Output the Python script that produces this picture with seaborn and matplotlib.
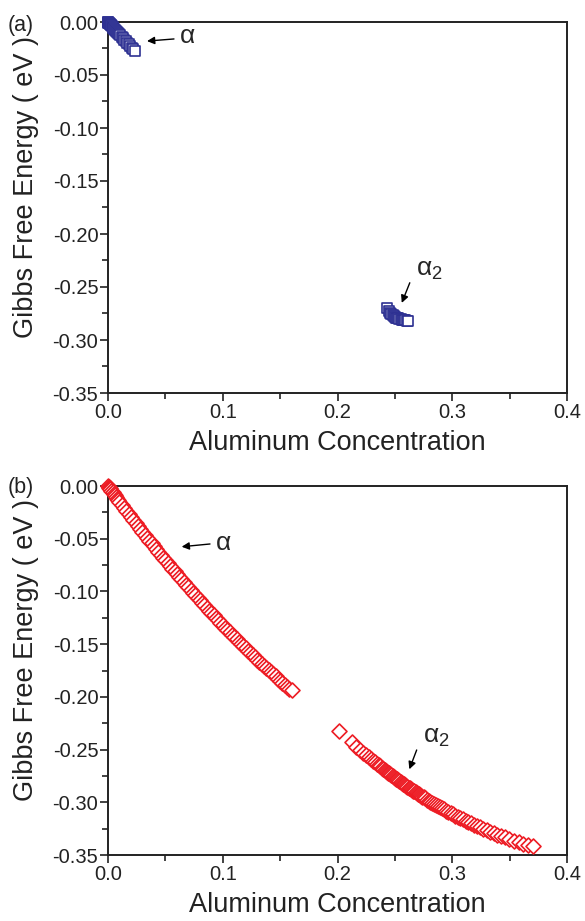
import numpy as np
import pandas as pd
import matplotlib
matplotlib.use("Agg")
import matplotlib.pyplot as plt
import matplotlib.ticker as ticker
import seaborn as sns

# ---- data ----
# (a) top panel, squares
a_alpha_x = [0.0, 0.0002, 0.0004, 0.0007, 0.001, 0.0014, 0.0018, 0.0023, 0.0028, 0.0034,
             0.004, 0.0047, 0.0054, 0.0062, 0.007, 0.0079, 0.0088, 0.0098, 0.0108, 0.0119,
             0.013, 0.0142, 0.0154, 0.0167, 0.018, 0.0194, 0.0208, 0.0222, 0.0235]
a_alpha_y = [0.0, -0.0002, -0.0005, -0.0008, -0.0012, -0.0016, -0.0021, -0.0027, -0.0033, -0.0040,
             -0.0047, -0.0055, -0.0063, -0.0073, -0.0082, -0.0092, -0.0103, -0.0115, -0.0126, -0.0139,
             -0.0152, -0.0166, -0.0180, -0.0195, -0.0211, -0.0227, -0.0243, -0.0259, -0.0274]

a_alpha2_x = [0.2429, 0.2445, 0.246, 0.247, 0.248, 0.249, 0.250, 0.251, 0.252, 0.253,
              0.254, 0.255, 0.256, 0.257, 0.258, 0.259, 0.2605, 0.2617]
a_alpha2_y = [-0.2695, -0.2725, -0.2745, -0.2757, -0.2767, -0.2775, -0.2782, -0.2788, -0.2793, -0.2797,
              -0.2801, -0.2804, -0.2807, -0.2810, -0.2812, -0.2814, -0.2817, -0.2820]

# (b) bottom panel, diamonds
b_alpha_x = [0.0, 0.0005, 0.001, 0.0015, 0.002, 0.003, 0.004, 0.005, 0.006, 0.007, 0.008, 0.009, 0.010,
             0.012, 0.014, 0.016, 0.018, 0.020, 0.022, 0.024, 0.026, 0.028, 0.030,
             0.032, 0.034, 0.036, 0.038, 0.040, 0.042, 0.044, 0.046, 0.048, 0.050,
             0.052, 0.054, 0.056, 0.058, 0.060, 0.062, 0.064, 0.066, 0.068, 0.070,
             0.072, 0.074, 0.076, 0.078, 0.080, 0.082, 0.084, 0.086, 0.088, 0.090,
             0.092, 0.094, 0.096, 0.098, 0.100, 0.102, 0.104, 0.106, 0.108, 0.110,
             0.112, 0.114, 0.116, 0.118, 0.120, 0.122, 0.124, 0.126, 0.128, 0.130,
             0.132, 0.134, 0.136, 0.138, 0.140, 0.142, 0.144, 0.146, 0.148, 0.150,
             0.152, 0.154, 0.156, 0.158, 0.160]
b_alpha_y = [0.0, -0.0008, -0.0015, -0.0022, -0.0030, -0.0045, -0.0060, -0.0075, -0.0089, -0.0104, -0.0119, -0.0133, -0.0148,
             -0.0177, -0.0206, -0.0235, -0.0264, -0.0293, -0.0321, -0.0350, -0.0378, -0.0406, -0.0434,
             -0.0462, -0.0489, -0.0517, -0.0544, -0.0571, -0.0598, -0.0625, -0.0652, -0.0679, -0.0705,
             -0.0731, -0.0758, -0.0784, -0.0809, -0.0835, -0.0861, -0.0886, -0.0912, -0.0937, -0.0962,
             -0.0987, -0.1011, -0.1036, -0.1060, -0.1085, -0.1109, -0.1133, -0.1157, -0.1181, -0.1204,
             -0.1228, -0.1251, -0.1274, -0.1297, -0.1320, -0.1343, -0.1365, -0.1388, -0.1410, -0.1432,
             -0.1454, -0.1476, -0.1498, -0.1519, -0.1541, -0.1562, -0.1583, -0.1604, -0.1625, -0.1646,
             -0.1666, -0.1687, -0.1707, -0.1727, -0.1747, -0.1767, -0.1787, -0.1806, -0.1826, -0.1845,
             -0.1864, -0.1883, -0.1902, -0.1921, -0.1939]

b_alpha2_x = [0.2016, 0.2123, 0.2165, 0.2196, 0.2225, 0.2250, 0.2272, 0.2292, 0.2310, 0.2327,
              0.2343, 0.2358, 0.2372, 0.2385, 0.2397,
              0.241, 0.242, 0.243, 0.244, 0.245, 0.246, 0.247, 0.248, 0.249, 0.250,
              0.251, 0.252, 0.253, 0.254, 0.255, 0.256, 0.257, 0.258, 0.259, 0.260,
              0.261, 0.262, 0.263, 0.264, 0.265, 0.266, 0.267, 0.268, 0.269, 0.270,
              0.271, 0.272, 0.273, 0.274, 0.275,
              0.2765, 0.2780, 0.2795, 0.2810, 0.2826, 0.2842, 0.2858, 0.2875, 0.2892, 0.2910,
              0.2928, 0.2947, 0.2966, 0.2986, 0.3006, 0.3027, 0.3048, 0.3070, 0.3093, 0.3116,
              0.3140, 0.3165, 0.3190, 0.3216, 0.3243, 0.3271, 0.3300, 0.3330, 0.3360, 0.3392,
              0.3425, 0.3460, 0.3497, 0.3537, 0.3580, 0.3620, 0.3660, 0.3700]
b_alpha2_y = [-0.2320, -0.2429, -0.2471, -0.2500, -0.2528, -0.2551, -0.2571, -0.2590, -0.2606, -0.2621,
              -0.2635, -0.2648, -0.2660, -0.2672, -0.2682,
              -0.2693, -0.2701, -0.2710, -0.2718, -0.2726, -0.2735, -0.2743, -0.2751, -0.2759, -0.2767,
              -0.2775, -0.2783, -0.2791, -0.2799, -0.2807, -0.2815, -0.2822, -0.2830, -0.2838, -0.2845,
              -0.2853, -0.2860, -0.2868, -0.2875, -0.2882, -0.2890, -0.2897, -0.2904, -0.2911, -0.2918,
              -0.2925, -0.2932, -0.2939, -0.2946, -0.2953,
              -0.2963, -0.2974, -0.2984, -0.2993, -0.3004, -0.3014, -0.3025, -0.3035, -0.3046, -0.3057,
              -0.3068, -0.3080, -0.3091, -0.3103, -0.3114, -0.3126, -0.3138, -0.3150, -0.3163, -0.3175,
              -0.3187, -0.3200, -0.3213, -0.3226, -0.3239, -0.3252, -0.3265, -0.3279, -0.3292, -0.3306,
              -0.3319, -0.3333, -0.3348, -0.3363, -0.3378, -0.3392, -0.3405, -0.3418]

panel_labels = ["(a)", "(b)"]
x_label = "Aluminum Concentration"
y_label = "Gibbs Free Energy ( eV )"

BLUE = "#2e3192"
RED = "#ed1c24"

sns.set_theme(style="ticks")
plt.rcParams["font.family"] = ["Liberation Sans", "DejaVu Sans"]
plt.rcParams["mathtext.fontset"] = "custom"
plt.rcParams["mathtext.rm"] = "Liberation Sans"
plt.rcParams["mathtext.it"] = "Liberation Sans:italic"
plt.rcParams["axes.unicode_minus"] = False

W, H = 585, 921
fig = plt.figure(figsize=(W / 100, H / 100), dpi=100, facecolor="white")
ax_a = fig.add_axes([108 / W, 1 - 393 / H, 459 / W, 371 / H])
ax_b = fig.add_axes([108 / W, 1 - 855 / H, 459 / W, 369 / H])

df_a = pd.concat([pd.DataFrame({"x": a_alpha_x, "y": a_alpha_y}),
                  pd.DataFrame({"x": a_alpha2_x, "y": a_alpha2_y})])
df_b1 = pd.DataFrame({"x": b_alpha_x, "y": b_alpha_y})
df_b2 = pd.DataFrame({"x": b_alpha2_x, "y": b_alpha2_y})

sns.scatterplot(data=df_a, x="x", y="y", ax=ax_a, marker="s", s=52,
                facecolor="white", edgecolor=BLUE, linewidth=1.2, clip_on=False, zorder=3)
for d in (df_b1, df_b2):
    sns.scatterplot(data=d, x="x", y="y", ax=ax_b, marker="D", s=58,
                    facecolor="white", edgecolor=RED, linewidth=1.2, clip_on=False, zorder=3)

for ax in (ax_a, ax_b):
    ax.set_xlim(0, 0.4)
    ax.set_ylim(-0.35, 0)
    ax.xaxis.set_major_locator(ticker.MultipleLocator(0.1))
    ax.xaxis.set_minor_locator(ticker.MultipleLocator(0.05))
    ax.yaxis.set_major_locator(ticker.MultipleLocator(0.05))
    ax.yaxis.set_minor_locator(ticker.MultipleLocator(0.025))
    ax.xaxis.set_major_formatter(ticker.FormatStrFormatter("%.1f"))
    ax.yaxis.set_major_formatter(ticker.FormatStrFormatter("%.2f"))
    ax.tick_params(which="major", direction="out", length=6, width=1.2, labelsize=14.5,
                   pad=1, colors="#222222", labelcolor="#222222")
    ax.tick_params(which="minor", direction="out", length=4, width=1.2, colors="#222222")
    ax.tick_params(top=False, right=False, which="both")
    for sp in ax.spines.values():
        sp.set_linewidth(1.4)
        sp.set_color("#222222")
    ax.set_xlabel(x_label, fontsize=19.5, labelpad=6, color="#222222")
    ax.set_ylabel(y_label, fontsize=19.5, color="#222222")
    ax.yaxis.set_label_coords(-0.15, 0.555)

# annotations
arrow = dict(arrowstyle="-|>", color="black", lw=1.0, mutation_scale=11, shrinkA=0, shrinkB=0)
ax_a.annotate("", xy=(0.034, -0.018), xytext=(0.0575, -0.016), arrowprops=arrow)
ax_a.text(0.069, -0.0132, "α", fontsize=19, ha="center", va="center")
ax_a.annotate("", xy=(0.256, -0.265), xytext=(0.263, -0.246), arrowprops=arrow)
ax_a.text(0.268, -0.234, "α$_2$", fontsize=19, ha="left", va="center")

ax_b.annotate("", xy=(0.0642, -0.0576), xytext=(0.0889, -0.055), arrowprops=arrow)
ax_b.text(0.1005, -0.0538, "α", fontsize=19, ha="center", va="center")
ax_b.annotate("", xy=(0.2626, -0.2687), xytext=(0.269, -0.2504), arrowprops=arrow)
ax_b.text(0.2745, -0.2378, "α$_2$", fontsize=19, ha="left", va="center")

fig.text(8 / W, 1 - 25 / H, panel_labels[0], fontsize=15.5, ha="left", va="center", color="#222222")
fig.text(8 / W, 1 - 487 / H, panel_labels[1], fontsize=15.5, ha="left", va="center", color="#222222")

fig.savefig("out.png", dpi=100, facecolor="white")
